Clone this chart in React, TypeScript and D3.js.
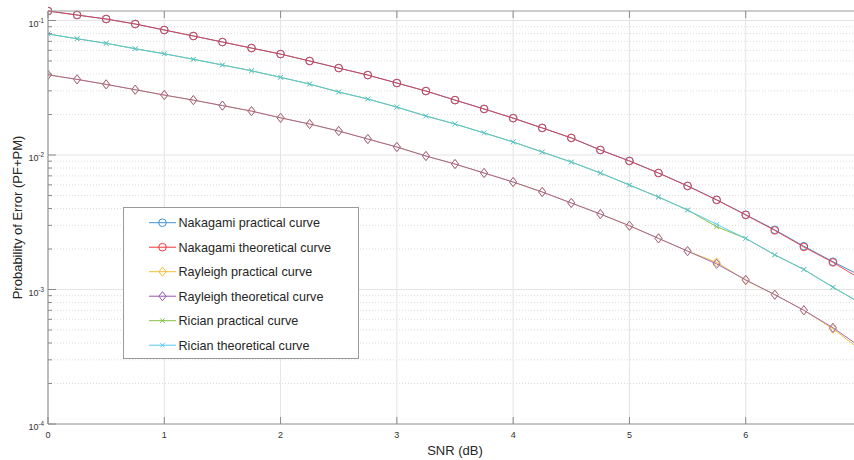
import React from "react";
import * as d3 from "d3";

const snr = [0, 0.25, 0.5, 0.75, 1, 1.25, 1.5, 1.75, 2, 2.25, 2.5, 2.75, 3, 3.25, 3.5, 3.75, 4, 4.25, 4.5, 4.75, 5, 5.25, 5.5, 5.75, 6, 6.25, 6.5, 6.75, 7];

const nakagamiTheory = [0.1177, 0.1099, 0.1026, 0.0942, 0.085, 0.0767, 0.0692, 0.0624, 0.0563, 0.05, 0.0443, 0.0393, 0.0343, 0.0299, 0.0256, 0.022, 0.0188, 0.0159, 0.0134, 0.0109, 0.00902, 0.00735, 0.00588, 0.00463, 0.00358, 0.00275, 0.00207, 0.00159, 0.00118];
const nakagamiPractical = [0.1177, 0.1099, 0.1026, 0.0942, 0.085, 0.0767, 0.0692, 0.0624, 0.0563, 0.05, 0.0443, 0.0393, 0.0343, 0.0299, 0.0256, 0.022, 0.0188, 0.0159, 0.0134, 0.0109, 0.00905, 0.00735, 0.0059, 0.00465, 0.0036, 0.00278, 0.0021, 0.00161, 0.00125];

const rayleighTheory = [0.0395, 0.0365, 0.0335, 0.0306, 0.0279, 0.0256, 0.0233, 0.0212, 0.0189, 0.017, 0.01508, 0.01315, 0.01147, 0.00983, 0.00857, 0.00735, 0.0063, 0.00531, 0.0044, 0.00364, 0.00298, 0.0024, 0.00193, 0.00155, 0.00118, 0.000915, 0.000701, 0.00052, 0.000367];
const rayleighPractical = [0.0395, 0.0365, 0.0335, 0.0306, 0.0279, 0.0256, 0.0233, 0.0212, 0.0189, 0.017, 0.01508, 0.01315, 0.01147, 0.00983, 0.00857, 0.00735, 0.0063, 0.00531, 0.0044, 0.00364, 0.00298, 0.0024, 0.00193, 0.00159, 0.00117, 0.000915, 0.000701, 0.00051, 0.00035];

const ricianTheory = [0.0794, 0.0732, 0.0677, 0.0617, 0.0566, 0.0515, 0.0467, 0.0423, 0.0378, 0.0337, 0.0294, 0.0261, 0.0227, 0.0195, 0.017, 0.0146, 0.0125, 0.01053, 0.00887, 0.00735, 0.00598, 0.00487, 0.0039, 0.00305, 0.0024, 0.00181, 0.00141, 0.00104, 0.00078];
const ricianPractical = [0.0794, 0.0732, 0.0677, 0.0617, 0.0566, 0.0515, 0.0467, 0.0423, 0.0378, 0.0337, 0.0294, 0.0261, 0.0227, 0.0195, 0.017, 0.0146, 0.0125, 0.01053, 0.00887, 0.00735, 0.00598, 0.00487, 0.0039, 0.00293, 0.0024, 0.00181, 0.00141, 0.00104, 0.00078];

const seriesNames = [
  "Nakagami practical curve",
  "Nakagami theoretical curve",
  "Rayleigh practical curve",
  "Rayleigh theoretical curve",
  "Rician practical curve",
  "Rician theoretical curve",
];
const seriesValues = [nakagamiPractical, nakagamiTheory, rayleighPractical, rayleighTheory, ricianPractical, ricianTheory];
const seriesColors = ["#3f93d6", "#f2343a", "#f2bd3a", "#9457ad", "#86c046", "#55c8ef"];
const seriesMarkers = ["circle", "circle", "diamond", "diamond", "x", "x"];
const seriesOpacity = [1, 0.85, 1, 0.85, 1, 0.9];

const xTicks = [0, 1, 2, 3, 4, 5, 6, 7];
const yDecades = [-4, -3, -2, -1];

const W = 854;
const H = 460;
const L = 48;
const R = 862;
const T = 11;
const B = 424;
const FONT = "'Liberation Sans', Arial, Helvetica, sans-serif";

function Marker({ kind, cx, cy, color }: { kind: string; cx: number; cy: number; color: string }) {
  if (kind === "circle") {
    return <circle cx={cx} cy={cy} r={3.8} fill="none" stroke={color} strokeWidth={1} />;
  }
  if (kind === "diamond") {
    const w = 3.6, h = 4.6;
    return (
      <path
        d={`M${cx},${cy - h}L${cx + w},${cy}L${cx},${cy + h}L${cx - w},${cy}Z`}
        fill="none"
        stroke={color}
        strokeWidth={1}
      />
    );
  }
  const s = 2.3;
  return (
    <path
      d={`M${cx - s},${cy - s}L${cx + s},${cy + s}M${cx - s},${cy + s}L${cx + s},${cy - s}`}
      stroke={color}
      strokeWidth={1}
    />
  );
}

export default function App() {
  const allVals = seriesValues.flat();
  const x = d3.scaleLinear().domain([0, 7]).range([L, R]);
  const y = d3.scaleLog().domain([1e-4, d3.max(allVals) as number]).range([B, T]);

  const line = (vals: number[]) =>
    d3
      .line<number>()
      .x((_, i) => x(snr[i]))
      .y((v) => y(v))(vals) as string;

  const minor: number[] = [];
  yDecades.forEach((e) => {
    for (let k = 2; k <= 9; k++) {
      const v = k * Math.pow(10, e);
      if (v <= (y.domain()[1] as number)) minor.push(v);
    }
  });

  const legX = 123.5, legY = 207.5, legW = 235, legH = 151;
  const rowY0 = 222.7, rowStep = 24.5;

  return (
    <svg width={W} height={H} style={{ position: "absolute", left: 0, top: 0, background: "#fff" }} fontFamily={FONT}>
      <rect x={0} y={0} width={W} height={H} fill="#fff" />
      <defs>
        <clipPath id="plotclip">
          <rect x={L} y={T - 6} width={R - L} height={B - T + 6} />
        </clipPath>
      </defs>
      {/* minor grid */}
      {minor.map((v) => (
        <line key={"mg" + v} x1={L} x2={R} y1={y(v)} y2={y(v)} stroke="#d4d4d4" strokeWidth={0.8} strokeDasharray="1,2" />
      ))}
      {/* major grid */}
      {yDecades.map((e) => (
        <line key={"yg" + e} x1={L} x2={R} y1={y(Math.pow(10, e))} y2={y(Math.pow(10, e))} stroke="#e4e4e4" strokeWidth={1} />
      ))}
      {xTicks.map((t) => (
        <line key={"xg" + t} x1={x(t)} x2={x(t)} y1={T} y2={B} stroke="#e4e4e4" strokeWidth={1} />
      ))}
      {/* series */}
      <g clipPath="url(#plotclip)">
        {seriesValues.map((vals, si) => (
          <g key={"s" + si} opacity={seriesOpacity[si]}>
            <path d={line(vals)} fill="none" stroke={seriesColors[si]} strokeWidth={1} />
            {vals.map((v, i) => (
              <Marker key={i} kind={seriesMarkers[si]} cx={x(snr[i])} cy={y(v)} color={seriesColors[si]} />
            ))}
          </g>
        ))}
      </g>
      {/* axes box */}
      <line x1={L} x2={R} y1={T} y2={T} stroke="#9a9a9a" strokeWidth={1.2} />
      <line x1={L} x2={R} y1={B} y2={B} stroke="#9a9a9a" strokeWidth={1.2} />
      <line x1={L} x2={L} y1={T} y2={B} stroke="#9a9a9a" strokeWidth={1.2} />
      {/* x ticks */}
      {xTicks.map((t) => (
        <g key={"xt" + t}>
          <line x1={x(t)} x2={x(t)} y1={B} y2={B - 7} stroke="#8a8a8a" strokeWidth={1} />
          <line x1={x(t)} x2={x(t)} y1={T} y2={T + 7} stroke="#8a8a8a" strokeWidth={1} />
          {x(t) < W - 4 ? (
            <text x={x(t)} y={437.5} textAnchor="middle" fontSize={9} fill="#333">
              {t}
            </text>
          ) : null}
        </g>
      ))}
      {/* y ticks */}
      {minor.map((v) => (
        <line key={"ymt" + v} x1={L} x2={L + 4} y1={y(v)} y2={y(v)} stroke="#8a8a8a" strokeWidth={1} />
      ))}
      {yDecades.map((e) => {
        const yy = y(Math.pow(10, e));
        return (
          <g key={"yt" + e}>
            <line x1={L} x2={L + 8} y1={yy} y2={yy} stroke="#8a8a8a" strokeWidth={1} />
            <text x={44} y={yy + 6} textAnchor="end" fontSize={9} fill="#333">
              10
              <tspan dy={-3.8} fontSize={6.3}>
                {String(e)}
              </tspan>
            </text>
          </g>
        );
      })}
      {/* axis labels */}
      <text x={(L + R) / 2} y={455} textAnchor="middle" fontSize={13} fill="#262626">
        SNR (dB)
      </text>
      <text
        transform={`translate(22,${(T + B) / 2}) rotate(-90)`}
        textAnchor="middle"
        fontSize={13}
        fill="#262626"
      >
        Probability of Error (PF+PM)
      </text>
      {/* legend */}
      <rect x={legX} y={legY} width={legW} height={legH} fill="#fff" stroke="#9a9a9a" strokeWidth={1} />
      {seriesNames.map((name, i) => {
        const ry = rowY0 + i * rowStep;
        return (
          <g key={"lg" + i}>
            <line x1={149} x2={176} y1={ry} y2={ry} stroke={seriesColors[i]} strokeWidth={1} />
            <Marker kind={seriesMarkers[i]} cx={162.5} cy={ry} color={seriesColors[i]} />
            <text x={178.5} y={ry + 4.5} fontSize={12.6} fill="#262626">
              {name}
            </text>
          </g>
        );
      })}
    </svg>
  );
}
